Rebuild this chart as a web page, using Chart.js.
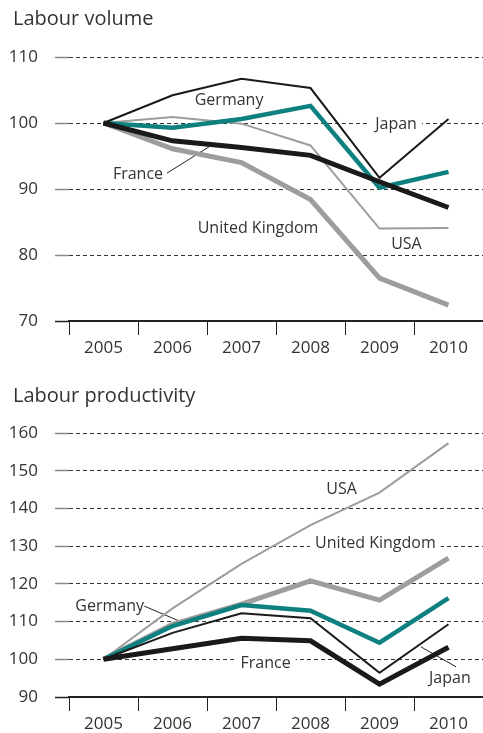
<!DOCTYPE html>
<html>
<head>
<meta charset="utf-8">
<script src="https://cdn.jsdelivr.net/npm/chart.js@4"></script>
<style>
  body { margin: 0; background: #fff; }
  .box { position: relative; width: 483px; }
  .title {
    position: absolute; left: 13px;
    font: 20px/24px "Open Sans", "DejaVu Sans", sans-serif;
    color: #333;
  }
</style>
</head>
<body>
<div class="box" style="height:370px">
  <div class="title" style="top:6px">Labour volume</div>
  <canvas id="volume"></canvas>
</div>
<div class="box" style="height:363px">
  <div class="title" style="top:13px">Labour productivity</div>
  <canvas id="productivity"></canvas>
</div>
<script>
// years on the x axis
const years = ['2005', '2006', '2007', '2008', '2009', '2010'];

// Labour volume (2005 = 100)
const volFrance  = [100, 97.3, 96.3, 95.1, 91.1, 87.2];
const volUK      = [100, 96.1, 94.0, 88.4, 76.5, 72.4];
const volGermany = [100, 99.3, 100.6, 102.6, 90.2, 92.6];
const volJapan   = [100, 104.2, 106.7, 105.3, 91.7, 100.6];
const volUSA     = [100, 100.9, 99.9, 96.6, 84.0, 84.1];
const volTicks   = [70, 110];

// Labour productivity (2005 = 100)
const prodFrance  = [100, 102.8, 105.6, 104.9, 93.4, 103.2];
const prodUK      = [100, 109.3, 114.6, 120.8, 115.7, 126.8];
const prodGermany = [100, 108.8, 114.4, 112.9, 104.4, 116.2];
const prodJapan   = [100, 107.0, 112.2, 110.9, 96.4, 109.3];
const prodUSA     = [100, 113.5, 125.3, 135.6, 144.2, 157.3];
const prodTicks   = [90, 160];

const FONT = '"Open Sans", "DejaVu Sans", sans-serif';
const TEXT = '#333';

// series labels written onto the plot, placed in data coordinates
const annotate = {
  id: 'annotate',
  beforeDatasetsDraw(chart, args, opts) {
    const { ctx, scales: { x, y } } = chart;
    ctx.save();
    ctx.font = '16px ' + FONT;
    ctx.textAlign = 'center';
    ctx.textBaseline = 'middle';
    for (const l of opts.items || []) {
      if (l.line) {
        ctx.beginPath();
        ctx.strokeStyle = '#222';
        ctx.lineWidth = 1;
        ctx.moveTo(x.getPixelForValue(l.line[0]), y.getPixelForValue(l.line[1]));
        ctx.lineTo(x.getPixelForValue(l.line[2]), y.getPixelForValue(l.line[3]));
        ctx.stroke();
      }
      const px = x.getPixelForValue(l.at[0]);
      const py = y.getPixelForValue(l.at[1]);
      if (l.bg) {
        const w = ctx.measureText(l.text).width + 10;
        ctx.fillStyle = '#fff';
        ctx.fillRect(px - w / 2, py - 10, w, 20);
      }
      ctx.fillStyle = TEXT;
      ctx.fillText(l.text, px, py + 1);
    }
    ctx.restore();
  }
};

function line(label, data, color, width, order) {
  return {
    label, data, order,
    borderColor: color,
    borderWidth: width,
    pointRadius: 0,
    tension: 0,
    borderJoinStyle: 'miter',
    fill: false
  };
}

function makeChart(id, ticks, series, labels, pad) {
  const [min, max] = ticks;
  return new Chart(document.getElementById(id), {
    type: 'line',
    data: { labels: years, datasets: series },
    plugins: [annotate],
    options: {
      responsive: true,
      maintainAspectRatio: false,
      animation: false,
      layout: { padding: { left: 0, right: 0, top: pad.top, bottom: 0 } },
      plugins: {
        legend: { display: false },
        tooltip: { enabled: false },
        annotate: { items: labels }
      },
      scales: {
        x: {
          offset: true,
          grid: {
            offset: true,
            drawOnChartArea: false,
            tickLength: 14,
            tickColor: '#222',
            tickWidth: 1
          },
          border: { color: '#222', width: 1.5 },
          ticks: { color: TEXT, padding: 3, font: { family: FONT, size: 17 } },
          afterFit: s => { s.height = pad.xh; }
        },
        y: {
          min, max,
          ticks: { stepSize: 10, color: TEXT, padding: 17, font: { family: FONT, size: 17 } },
          grid: {
            color: c => c.tick && c.tick.value === min ? '#222' : '#333',
            lineWidth: 1,
            tickLength: 14,
            tickWidth: 1.5,
            tickColor: c => c.tick && c.tick.value === min ? '#222' : '#888'
          },
          border: {
            display: false,
            dash: c => c.tick && c.tick.value === min ? [] : [4, 3]
          },
          afterFit: s => { s.width = 69; }
        }
      }
    }
  });
}

makeChart('volume', volTicks, [
  line('United Kingdom', volUK, '#9d9d9d', 5, 5),
  line('USA', volUSA, '#9d9d9d', 2, 4),
  line('Germany', volGermany, '#0f8080', 4.5, 3),
  line('Japan', volJapan, '#1a1a1a', 2, 2),
  line('France', volFrance, '#1a1a1a', 5, 1)
], [
  { text: 'Germany', at: [1.82, 103.5] },
  { text: 'Japan', at: [4.24, 100], bg: true },
  { text: 'France', at: [0.5, 92.4], line: [0.92, 92.4, 1.53, 96.4] },
  { text: 'United Kingdom', at: [2.24, 84.2] },
  { text: 'USA', at: [4.39, 81.7] }
], { top: 57, xh: 49 });

makeChart('productivity', prodTicks, [
  line('United Kingdom', prodUK, '#9d9d9d', 5, 5),
  line('USA', prodUSA, '#9d9d9d', 2, 4),
  line('Germany', prodGermany, '#0f8080', 4.5, 3),
  line('Japan', prodJapan, '#1a1a1a', 2, 2),
  line('France', prodFrance, '#1a1a1a', 5, 1)
], [
  { text: 'USA', at: [3.45, 145.4] },
  { text: 'United Kingdom', at: [3.94, 130.9], bg: true },
  { text: 'Germany', at: [0.09, 114.3], line: [0.59, 114.1, 1.13, 109.9] },
  { text: 'France', at: [2.35, 99.1], bg: true },
  { text: 'Japan', at: [5.02, 95.1], line: [4.6, 103.3, 5.11, 98.0] }
], { top: 63, xh: 36 });
</script>
</body>
</html>
